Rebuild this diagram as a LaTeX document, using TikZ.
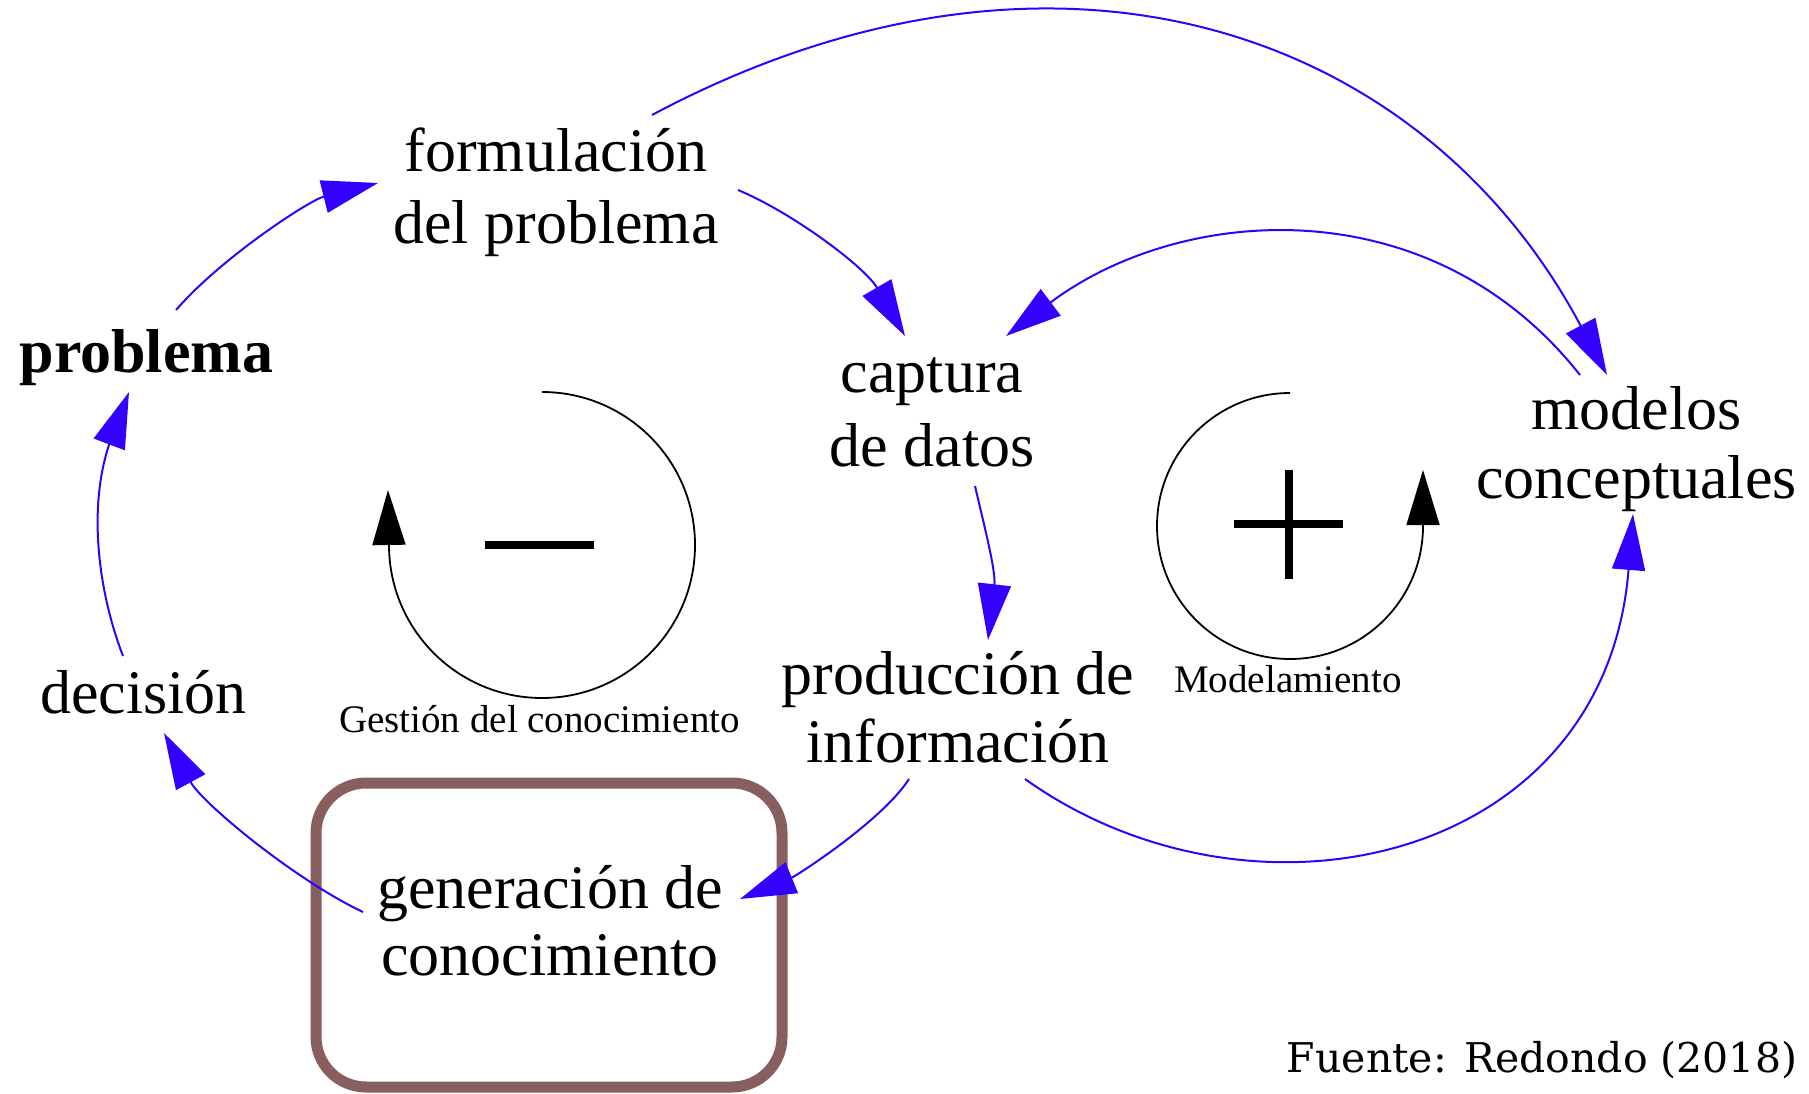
\documentclass[tikz,border=0pt]{standalone}
\usepackage{fontspec}
\setmainfont{Liberation Serif}
\newfontfamily\srcfont{DejaVu Serif}
\usetikzlibrary{arrows.meta}
\definecolor{lnblue}{RGB}{51,0,255}
\definecolor{boxbrown}{RGB}{136,94,94}
\newcommand{\twolines}[2]{\begin{tabular}[t]{@{}c@{}}#1\\#2\end{tabular}}
\begin{document}
\begin{tikzpicture}[x=1pt,y=-1pt,
  lbl/.style={anchor=base, inner sep=0pt, font=\fontsize{62}{71}\selectfont},
  smalllbl/.style={anchor=base, inner sep=0pt, font=\fontsize{39}{45}\selectfont},
  conn/.style={draw=lnblue, line width=2pt, -{Triangle[length=56pt,width=33pt]}},
  loopar/.style={draw=black, line width=1.8pt, -{Triangle[length=55pt,width=33pt]}},
  sign/.style={line width=8pt}]
\fill[white] (0,0) rectangle (1809,1094);
\useasboundingbox (0,0) rectangle (1809,1094);

% labels
\node[lbl] (form) at (556,172) {\twolines{formulación}{del problema}};
\node[lbl, font=\bfseries\fontsize{62}{71}\selectfont] (prob) at (146.5,372) {problema};
\node[lbl] (dec) at (143.5,713) {decisión};
\node[smalllbl] (gest) at (539.5,732) {Gestión del conocimiento};
\node[lbl, font=\fontsize{62}{74}\selectfont] (capt) at (932,392) {\twolines{captura}{de datos}};
\node[lbl, font=\fontsize{62}{69}\selectfont] (model) at (1636.5,429) {\twolines{modelos}{conceptuales}};
\node[lbl, font=\fontsize{62}{68}\selectfont] (prod) at (958,694) {\twolines{producción de}{información}};
\node[smalllbl] (modl) at (1288,692) {Modelamiento};
\node[draw=boxbrown, line width=11pt, rounded corners=50pt, minimum width=466pt, minimum height=304pt, inner sep=0pt] (genbox) at (549,935) {};
\node[lbl, font=\fontsize{62}{67}\selectfont] (gen) at (550,908) {\twolines{generación de}{conocimiento}};
\node[anchor=base, inner sep=0pt, font=\srcfont\fontsize{41}{48}\selectfont] (src) at (1542,1072) {Fuente: Redondo (2018)};

% connector ends
\coordinate (p1) at (176,310);  \coordinate (f1) at (378,183);
\coordinate (d1) at (123,656);  \coordinate (p2) at (129,392);
\coordinate (d1b) at (109,445);
\coordinate (g1) at (363,912);  \coordinate (d2) at (164,733);
\coordinate (f2) at (738,190);  \coordinate (c1) at (905,336);
\coordinate (f3) at (652,115);  \coordinate (m1) at (1607,375);
\coordinate (m2) at (1580,375); \coordinate (c2) at (1006,336);
\coordinate (c3) at (975,486);  \coordinate (r1) at (988,640);
\coordinate (r2) at (909,779);  \coordinate (g2) at (740,899);
\coordinate (r3) at (1025,779); \coordinate (m3) at (1633,514);

% connectors
\draw[conn] (p1) .. controls (222,257) and (310,200) .. (f1);
\draw[conn] (d1) .. controls (98,591) and (88,508) .. (d1b) -- (p2);
\draw[conn] (g1) .. controls (295,880) and (202,803) .. (d2);
\draw[conn] (f2) .. controls (793,213) and (865,267) .. (c1);
\draw[conn] (f3) .. controls (1048,-96) and (1419,23) .. (m1);
\draw[conn] (m2) .. controls (1430,185) and (1180,205) .. (c2);
\draw[conn] (c3) .. controls (984,525) and (996,571) .. (r1);
\draw[conn] (r2) .. controls (882,821) and (796,876) .. (g2);
\draw[conn] (r3) .. controls (1252,941) and (1605,864) .. (m3);

% loop symbols
\draw[loopar] (542,392) arc[start angle=-90, end angle=180, radius=153] -- (388,490);
\draw[loopar] (1290,393) arc[start angle=-90, end angle=-360, radius=133] -- (1423,470);
\draw[sign] (485,545) -- (594,545);
\draw[sign] (1234,524) -- (1343,524) (1289,470) -- (1289,579);
\end{tikzpicture}
\end{document}
